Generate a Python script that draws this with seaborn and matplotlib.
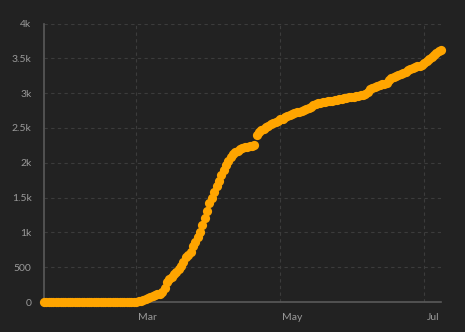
import numpy as np
import pandas as pd
import matplotlib
matplotlib.use("Agg")
import matplotlib.pyplot as plt
import matplotlib.dates as mdates
import seaborn as sns

# ---- data ----
dates = pd.date_range("2020-01-22", "2020-07-08", freq="D")

jan_feb = [0] * 39
mar = [2, 8, 18, 30, 40, 52, 65, 80, 95, 108, 120, 145, 205, 290, 330, 360,
       400, 435, 470, 515, 580, 640, 680, 720, 800, 860, 930, 1010, 1100, 1200, 1300]
apr = [1420, 1500, 1580, 1660, 1740, 1820, 1900, 1970, 2030, 2080, 2120, 2150,
       2175, 2195, 2210, 2220, 2230, 2237, 2243, 2250, 2400, 2440, 2470, 2490,
       2510, 2530, 2555, 2575, 2590, 2605]
may = [2622, 2635, 2650, 2665, 2680, 2695, 2710, 2722, 2735, 2747, 2760, 2775,
       2790, 2805, 2825, 2842, 2855, 2862, 2868, 2873, 2880, 2886, 2892, 2898,
       2905, 2912, 2920, 2927, 2932, 2938, 2944]
jun = [2950, 2955, 2961, 2968, 2978, 2990, 3010, 3058, 3075, 3090, 3106, 3115,
       3125, 3135, 3150, 3190, 3220, 3235, 3250, 3265, 3280, 3295, 3310, 3325,
       3340, 3358, 3372, 3385, 3395, 3406]
jul = [3430, 3460, 3495, 3525, 3550, 3575, 3600, 3625]

values = jan_feb + mar + apr + may + jun + jul

y_ticks = [0, 500, 1000, 1500, 2000, 2500, 3000, 3500, 4000]
y_tick_labels = ["0", "500", "1k", "1.5k", "2k", "2.5k", "3k", "3.5k", "4k"]
x_tick_dates = pd.to_datetime(["2020-03-01", "2020-05-01", "2020-07-01"])
x_tick_labels = ["Mar", "May", "Jul"]

df = pd.DataFrame({"date": dates, "value": values})

# ---- style ----
bg = "#222222"
sns.set_style("dark", {"axes.facecolor": bg, "figure.facecolor": bg})
plt.rcParams["font.family"] = ["Lato", "DejaVu Sans"]

fig = plt.figure(figsize=(4.65, 3.32), dpi=100)
ax = fig.add_axes([44 / 465, 30 / 332, (441 - 44) / 465, (308.5 - 30) / 332])
ax.set_facecolor(bg)

sns.scatterplot(data=df, x="date", y="value", ax=ax, color="#FFA500",
                s=44, linewidth=0, alpha=1, zorder=3, clip_on=False)

ax.set_xlim(dates[0], dates[-1])
ax.set_ylim(0, 4000)
ax.set_yticks(y_ticks)
ax.set_yticklabels(y_tick_labels)
ax.set_xticks(x_tick_dates)
ax.set_xticklabels(x_tick_labels, ha="left")
ax.set_xlabel("")
ax.set_ylabel("")

ax.grid(True, color="#3c3c3c", linestyle=(0, (3, 3)), linewidth=0.8)
ax.set_axisbelow(True)

for side in ["top", "right"]:
    ax.spines[side].set_visible(False)
for side in ["left", "bottom"]:
    ax.spines[side].set_visible(True)
    ax.spines[side].set_color("#5a5a5a")
    ax.spines[side].set_linewidth(1.2)

ax.tick_params(axis="y", length=5, width=1, color="#5a5a5a", pad=4,
               labelsize=7.5, labelcolor="#9a9a9a")
ax.tick_params(axis="x", length=3, width=1, color="#5a5a5a", pad=5,
               labelsize=7.5, labelcolor="#9a9a9a")
for lbl in ax.get_xticklabels():
    lbl.set_x(lbl.get_position()[0])

# shift x tick labels slightly right of their ticks, as in the reference
import matplotlib.transforms as mtransforms
offset = mtransforms.ScaledTranslation(2 / 100, 0, fig.dpi_scale_trans)
for lbl in ax.get_xticklabels():
    lbl.set_transform(lbl.get_transform() + offset)

fig.savefig("out.png", dpi=100, facecolor=bg)
